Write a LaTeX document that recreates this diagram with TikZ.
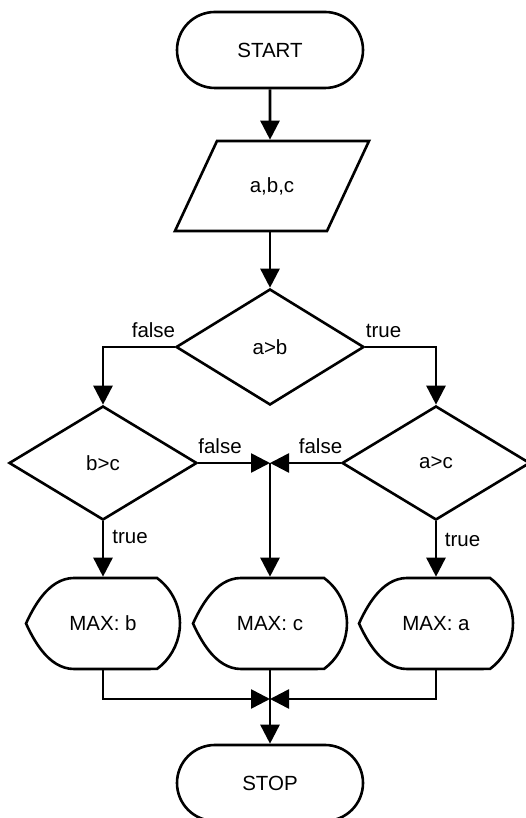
\documentclass[tikz,border=0pt]{standalone}
\usepackage{fontspec}
\setmainfont{Liberation Sans}
\usetikzlibrary{arrows.meta,shapes.geometric,shapes.misc}

% outline of an output (display) box around a hidden frame node
\newcommand\displayoutline[1]{%
  \draw[shift={(#1.center)}] (-29,45.5) -- (54,45.5)
    arc[start angle=53.6, end angle=-53.6, radius=56.5pt]
    -- (-29,-45.5)
    .. controls (-55,-45.5) and (-70,-15) .. (-77,0)
    .. controls (-70,15) and (-55,45.5) .. (-29,45.5) -- cycle;}

\begin{document}
\begin{tikzpicture}[x=1pt,y=1pt,
  line width=2.6pt,
  every node/.style={font=\fontsize{20.5}{24}\selectfont, inner sep=0pt},
  terminal/.style={rounded rectangle, draw, minimum width=186pt, minimum height=76pt},
  decision/.style={diamond, draw, aspect=1.65, minimum width=188pt, minimum height=114pt},
  frame/.style={rectangle, outer sep=1.3pt},
  arr/.style={-{Triangle[length=19pt,width=19pt]}},
  lbl/.style={anchor=base}
]
\useasboundingbox (0,0) rectangle (526,818);

% flow nodes
\node[terminal] (start) at (270,768) {START};
\node[frame, minimum width=194pt, minimum height=90pt] (in) at (272,632) {a,b,c};
\node[decision, minimum height=116pt] (ab) at (270,471) {a>b};
\node[decision] (bc) at (103,355) {b>c};
\node[decision] (ac) at (436,355) {a>c};
\node[frame, minimum width=154pt, minimum height=91pt] (mb) at (103,194.5) {MAX: b};
\node[frame, minimum width=154pt, minimum height=91pt] (mc) at (270,194.5) {MAX: c};
\node[frame, minimum width=154pt, minimum height=91pt] (ma) at (436,194.5) {MAX: a};
\node[terminal] (stop) at (270,35) {STOP};

\coordinate (j1) at (270,355);
\coordinate (j2) at (270,119);

% input parallelogram
\draw[shift={(in.center)}] (-55,45) -- (97,45) -- (55,-45) -- (-97,-45) -- cycle;

% output boxes
\displayoutline{mb}
\displayoutline{mc}
\displayoutline{ma}

% connectors
\draw[arr] (start) -- (start |- in.north);
\draw[arr] (ab.north |- in.south) -- (ab.north);
\draw[arr] (ab.west) -| (bc.north);
\draw[arr] (ab.east) -| (ac.north);
\draw[arr] (bc.east) -- (j1);
\draw[arr] (ac.west) -- (j1);
\draw[arr] (j1) -- (mc.north);
\draw[arr] (bc.south) -- (mb.north);
\draw[arr] (ac.south) -- (ma.north);
\draw[arr] (mb.south) |- (j2);
\draw[arr] (ma.south) |- (j2);
\draw[arr] (mc.south) -- (stop.north);

% branch labels
\node[lbl] (f1) at (153.5,480) {false};
\node[lbl] (t1) at (383.5,480) {true};
\node[lbl] (f2) at (220,364) {false};
\node[lbl] (f3) at (320.5,364) {false};
\node[lbl] (t2) at (130,274) {true};
\node[lbl] (t3) at (462.5,271) {true};
\end{tikzpicture}
\end{document}
